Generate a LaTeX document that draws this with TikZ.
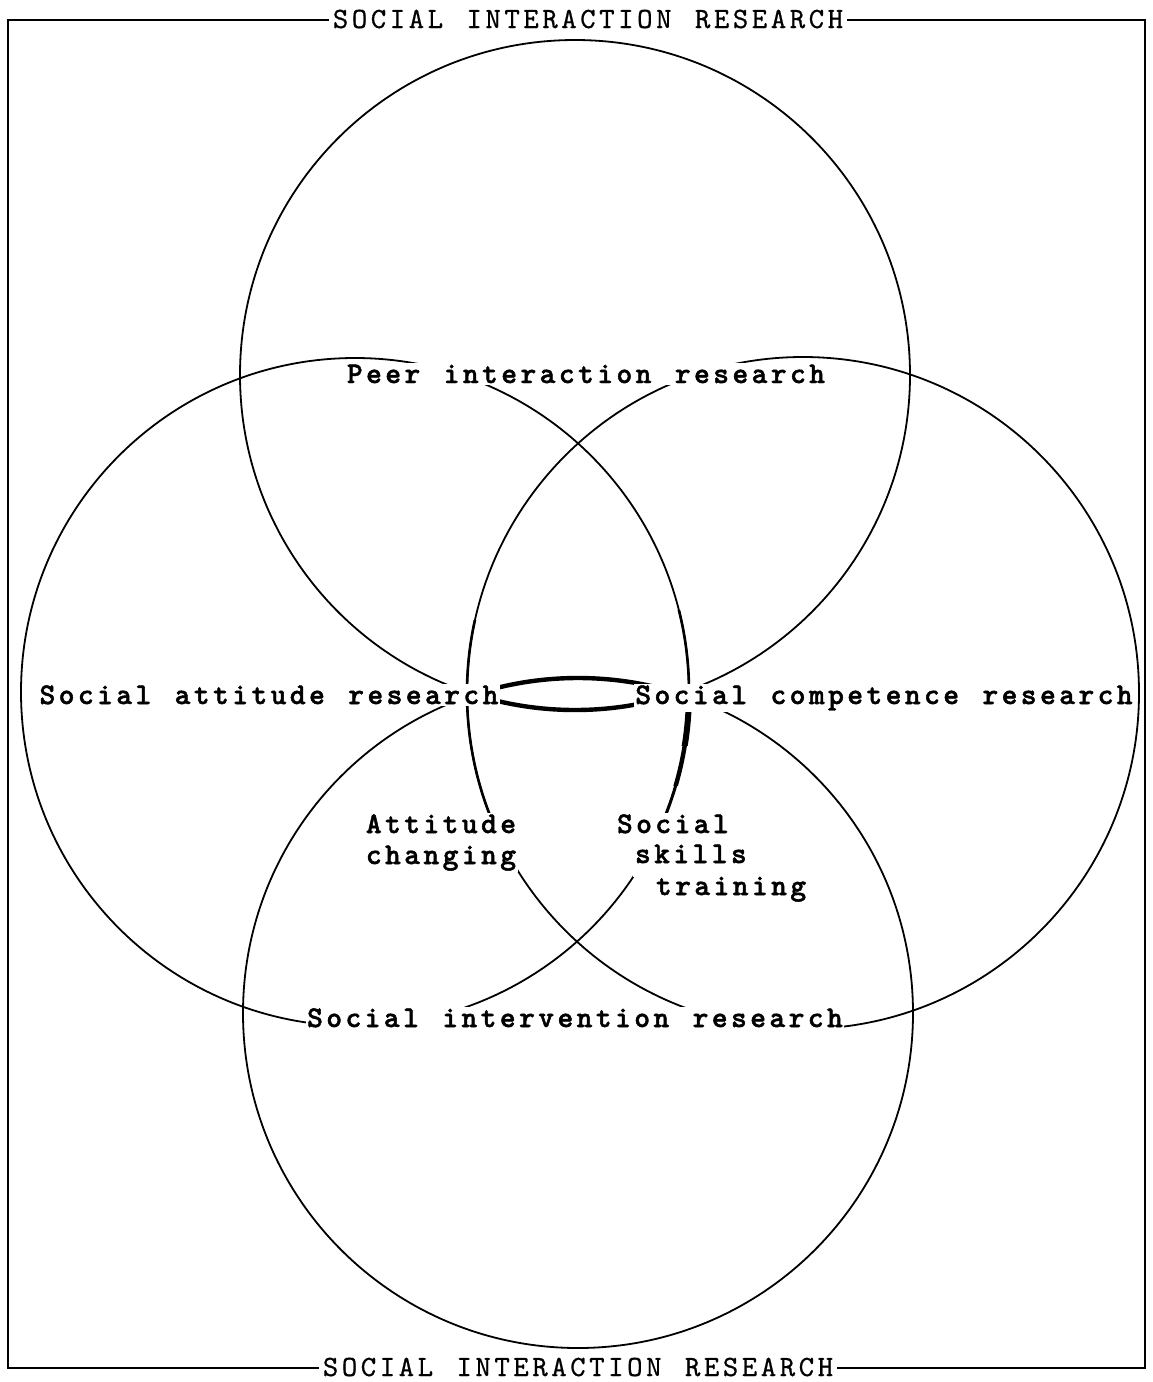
\documentclass[tikz,border=0pt]{standalone}
\usepackage{fontspec}
\newfontfamily\labfont{lmmonolt10-bold.otf}[LetterSpace=11.5, WordSpace=1.219, FakeBold=1.6]
\newfontfamily\ttlfont{lmmono10-regular.otf}[LetterSpace=12, WordSpace=1.234, FakeBold=0.6]
\begin{document}
\begin{tikzpicture}[x=0.5pt,y=-0.5pt,
  venn/.style={circle, draw, line width=0.9pt, minimum size=#1, inner sep=0pt},
  lab/.style={font=\labfont\fontsize{15}{15.5}\selectfont, fill=white, inner sep=0.8pt},
  ttl/.style={font=\ttlfont\fontsize{14.7}{16}\selectfont, fill=white, inner sep=2pt},
  heavy/.style={line width=2.2pt},
  midheavy/.style={line width=1.3pt}]
\useasboundingbox (0,0) rectangle (1152,1382);
\fill[white] (0,0) rectangle (1152,1382);

% frame
\draw[line width=1.3pt] (8,20) rectangle (1145,1368);

% the four circles
\node[venn=335pt] (peer) at (575,375) {};
\node[venn=334pt] (attitude) at (355,692) {};
\node[venn=336pt] (competence) at (803,693) {};
\node[venn=335pt] (intervention) at (578,1013) {};

% retraced (heavier) parts
\begin{scope}
  \clip (495,660) rectangle (665,730);
  \draw[heavy] (peer.center) circle[radius=167.5pt];
  \draw[heavy] (intervention.center) circle[radius=167.5pt];
\end{scope}
\begin{scope}
  \clip (640,700) rectangle (700,745);
  \draw[line width=3pt] (attitude.center) circle[radius=167pt];
\end{scope}
\begin{scope}
  \clip (640,745) rectangle (700,785);
  \draw[line width=2.2pt] (attitude.center) circle[radius=167pt];
\end{scope}
\begin{scope}
  \clip (640,785) rectangle (700,815);
  \draw[line width=1.5pt] (attitude.center) circle[radius=167pt];
\end{scope}
\begin{scope}
  \clip (640,610) rectangle (700,700);
  \draw[midheavy] (attitude.center) circle[radius=167pt];
\end{scope}
\begin{scope}
  \clip (440,620) rectangle (500,815);
  \draw[midheavy] (competence.center) circle[radius=168pt];
\end{scope}

% titles
\node[ttl, anchor=base] (toptitle) at (588,28) {SOCIAL INTERACTION RESEARCH};
\node[ttl, anchor=base] (bottitle) at (578,1376) {SOCIAL INTERACTION RESEARCH};

% labels
\node[lab, anchor=base, text height=9pt] (peerlab) at (586,383) {Peer interaction research};
\node[lab, anchor=base] (attlab) at (269,704) {Social attitude research};
\node[lab, anchor=base] (complab) at (884,704) {Social competence research};
\node[lab, anchor=base, text depth=6pt] (change1) at (441,833) {Attitude};
\node[lab, anchor=base] (change2) at (441,864) {changing};
\node[lab, anchor=base west, text depth=6pt] (skill1) at (615,833) {Social};
\node[lab, anchor=base west, text depth=6pt] (skill2) at (633,863) {skills};
\node[lab, anchor=base west] (skill3) at (654,895) {training};
\node[lab, anchor=base, text depth=3pt] (intlab) at (575,1027) {Social intervention research};
\end{tikzpicture}
\end{document}
